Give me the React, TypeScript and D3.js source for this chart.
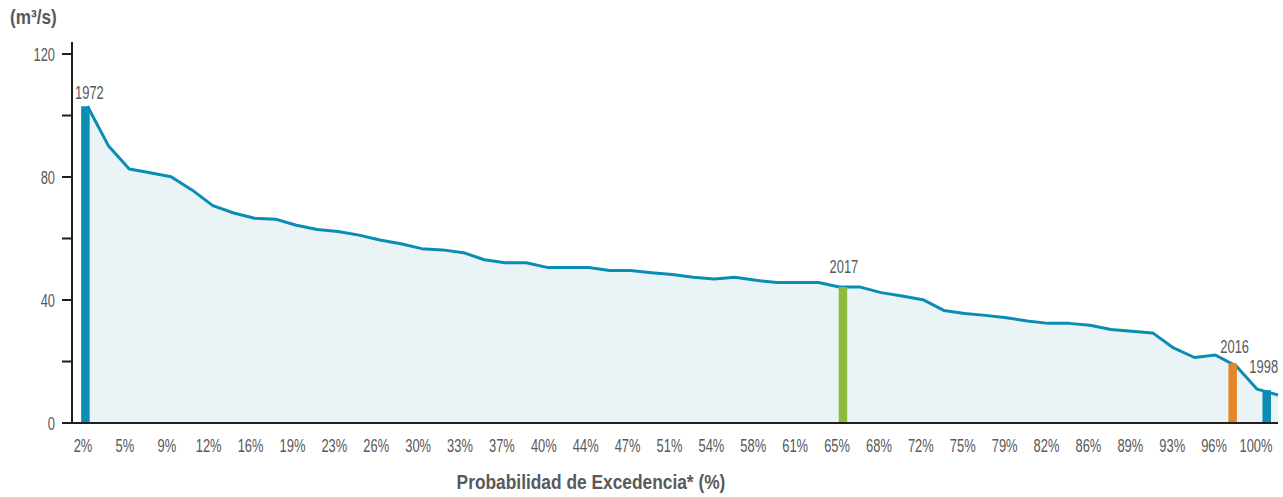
import React from "react";
import * as d3 from "d3";

// Flow (m³/s) ordered by exceedance probability
const flowValues: number[] = [
  103, 90.2, 82.6, 81.4, 80.1, 75.8, 70.7, 68.3, 66.6, 66.3,
  64.3, 62.9, 62.3, 61.1, 59.5, 58.3, 56.7, 56.3, 55.4, 53.1,
  52.1, 52.1, 50.6, 50.6, 50.6, 49.6, 49.6, 48.9, 48.3, 47.4,
  46.8, 47.4, 46.4, 45.7, 45.7, 45.7, 44.2, 44.2, 42.4, 41.3,
  40.1, 36.6, 35.6, 35.0, 34.2, 33.2, 32.4, 32.4, 31.8, 30.4,
  29.8, 29.3, 24.4, 21.3, 22.1, 18.5, 11.0, 9.1,
];

const xTickLabels: string[] = [
  "2%", "5%", "9%", "12%", "16%", "19%", "23%", "26%", "30%", "33%",
  "37%", "40%", "44%", "47%", "51%", "54%", "58%", "61%", "65%", "68%",
  "72%", "75%", "79%", "82%", "86%", "89%", "93%", "96%", "100%",
];

const yTicks: number[] = [0, 20, 40, 60, 80, 100, 120];
const yTickLabels: number[] = [0, 40, 80, 120];

// Highlighted years: position along the ranked series and value
const highlightYears: string[] = ["1972", "2017", "2016", "1998"];
const highlightPos: number[] = [-0.1, 36.17, 54.83, 56.46];
const highlightValues: number[] = [103, 44.2, 19.4, 10.7];

const highlightColors: Record<string, string> = {
  "1972": "#0a8db4",
  "2017": "#8dbb3c",
  "2016": "#e3862a",
  "1998": "#0a8db4",
};
const labelGap: Record<string, number> = { "1972": 7, "2017": 14, "2016": 10, "1998": 17 };
const labelDx: Record<string, number> = { "1972": 4, "2017": 1, "2016": 2, "1998": -3 };

const FONT = "'Liberation Sans', Arial, sans-serif";
const TEXT = "#58595b";
const SX = 0.68; // condensed look

function CText(props: {
  x: number;
  y: number;
  sx?: number;
  size: number;
  anchor?: "start" | "middle" | "end";
  bold?: boolean;
  dy?: string;
  children: React.ReactNode;
}) {
  const { x, y, sx = SX, size, anchor = "start", bold, dy, children } = props;
  return (
    <text
      transform={`translate(${x},${y}) scale(${sx},1)`}
      textAnchor={anchor}
      fontSize={size}
      fontWeight={bold ? "bold" : "normal"}
      fill={TEXT}
      dy={dy}
    >
      {children}
    </text>
  );
}

export default function App() {
  const W = 1283;
  const H = 497;
  const x = d3.scaleLinear().domain([0, flowValues.length - 1]).range([87.5, 1278]);
  const xAxis = d3.scaleLinear().domain([0, xTickLabels.length - 1]).range([83, 1256]);
  const y = d3.scaleLinear().domain([0, 120]).range([423, 54]);

  const area = d3
    .area<number>()
    .x((_, i) => x(i))
    .y0(y(0))
    .y1((d) => y(d));
  const line = d3
    .line<number>()
    .x((_, i) => x(i))
    .y((d) => y(d));

  const barW = 8.5;

  return (
    <svg
      width={W}
      height={H}
      style={{ position: "absolute", left: 0, top: 0, background: "#fff" }}
      fontFamily={FONT}
    >
      <path d={area(flowValues) ?? ""} fill="#eaf3f6" />
      <path d={line(flowValues) ?? ""} fill="none" stroke="#0a8db4" strokeWidth={3} strokeLinejoin="round" />

      {highlightYears.map((yr, i) => {
        const cx = x(highlightPos[i]);
        const top = y(highlightValues[i]);
        return (
          <g key={yr}>
            <rect x={cx - barW / 2} y={top} width={barW} height={y(0) - top} fill={highlightColors[yr]} />
            <CText x={cx + labelDx[yr]} y={top - labelGap[yr]} size={19} anchor="middle">
              {yr}
            </CText>
          </g>
        );
      })}

      {/* y axis */}
      <line x1={72} x2={72} y1={42} y2={y(0)} stroke="#231f20" strokeWidth={2} />
      {yTicks.map((t) => (
        <line key={t} x1={62} x2={72} y1={y(t)} y2={y(t)} stroke="#231f20" strokeWidth={2} />
      ))}
      {yTickLabels.map((t) => (
        <CText key={t} x={55} y={y(t)} dy="0.35em" anchor="end" size={19}>
          {t}
        </CText>
      ))}

      {/* x axis */}
      <line x1={62} x2={1278} y1={y(0)} y2={y(0)} stroke="#231f20" strokeWidth={2.2} />
      {xTickLabels.map((lab, k) => (
        <CText key={lab} x={xAxis(k)} y={452} anchor="middle" size={19}>
          {lab}
        </CText>
      ))}

      <CText x={591} y={489} anchor="middle" size={19.5} bold sx={0.89}>
        Probabilidad de Excedencia* (%)
      </CText>
      <CText x={10} y={24} size={20} bold sx={0.86}>
        (m³/s)
      </CText>
    </svg>
  );
}
